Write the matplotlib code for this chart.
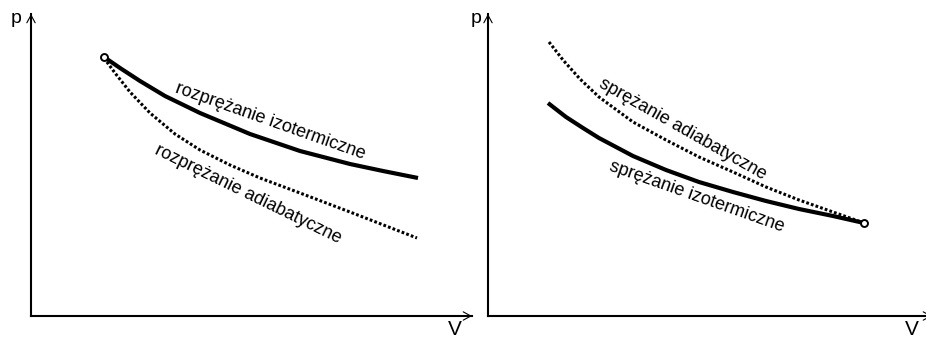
import numpy as np
import matplotlib
matplotlib.use("Agg")
import matplotlib.pyplot as plt

plt.rcParams["font.family"] = ["Liberation Sans", "DejaVu Sans"]

W_PX, H_PX = 926, 339

# ---- data (V, p in arbitrary units, origin at axes corner) ----
# left panel: expansion
exp_iso_V = [73, 89, 109, 134, 169, 219, 269, 319, 352, 387]
exp_iso_p = [259, 248, 235, 220, 203, 182, 165, 152, 145, 138]
exp_adi_V = [73, 84, 99, 119, 144, 169, 199, 229, 269, 319, 386]
exp_adi_p = [258, 243, 224, 203, 182, 166, 151, 138, 123, 104, 78]

# right panel: compression
com_adi_V = [61, 75, 92, 111, 145, 178, 211, 245, 278, 311, 345, 376]
com_adi_p = [274, 256, 237, 219, 194, 176, 159, 144, 129, 116, 104, 93]
com_iso_V = [60, 78, 95, 111, 145, 178, 211, 245, 278, 311, 345, 376]
com_iso_p = [213, 199, 188, 178, 160, 146, 134, 124, 115, 107, 100, 93]

labels_left = ["rozprężanie izotermiczne", "rozprężanie adiabatyczne"]
labels_right = ["sprężanie adiabatyczne", "sprężanie izotermiczne"]

fig = plt.figure(figsize=(W_PX / 100, H_PX / 100), dpi=100)


def make_axes(x0, x1, y_top, y_bot=316):
    ax = fig.add_axes([x0 / W_PX, 1 - y_bot / H_PX,
                       (x1 - x0) / W_PX, (y_bot - y_top) / H_PX])
    ax.set_xlim(0, x1 - x0)
    ax.set_ylim(0, y_bot - y_top)
    ax.set_xticks([])
    ax.set_yticks([])
    for s in ("top", "right"):
        ax.spines[s].set_visible(False)
    for s in ("left", "bottom"):
        ax.spines[s].set_linewidth(1.5)
        ax.spines[s].set_color("black")
    ax.patch.set_alpha(0)
    return ax


def arrow_heads(ax, xmax, ymax):
    kw = dict(arrowstyle="->,head_length=0.55,head_width=0.3", lw=0.8,
              color="black", shrinkA=0, shrinkB=0)
    ax.annotate("", xy=(0, ymax), xytext=(0, ymax - 10), arrowprops=kw,
                annotation_clip=False)
    ax.annotate("", xy=(xmax, 0), xytext=(xmax - 10, 0), arrowprops=kw,
                annotation_clip=False)


SOLID = dict(color="black", lw=3.0, solid_capstyle="butt",
             solid_joinstyle="round")
DOTTED = dict(color="black", lw=2.2, linestyle=(0, (0.9, 0.7)))
TXT = dict(fontsize=13, ha="center", va="center", rotation_mode="anchor")

# ---- left panel ----
axl = make_axes(31, 472, 14)
arrow_heads(axl, 441, 302)
axl.plot(exp_adi_V, exp_adi_p, **DOTTED)
axl.plot(exp_iso_V, exp_iso_p, **SOLID)
axl.plot(exp_iso_V[0], exp_iso_p[0], marker="o", ms=5, mfc="white",
         mec="black", mew=1.4)
axl.text(270 - 31, 316 - 121, labels_left[0], rotation=-19.5, **TXT)
axl.text(248 - 31, 316 - 194, labels_left[1], rotation=-26, **TXT)

# ---- right panel ----
axr = make_axes(488, 932, 14)
arrow_heads(axr, 444, 302)
axr.plot(com_adi_V, com_adi_p, **DOTTED)
axr.plot(com_iso_V, com_iso_p, **SOLID)
axr.plot(com_iso_V[-1], com_iso_p[-1], marker="o", ms=5, mfc="white",
         mec="black", mew=1.4)
axr.text(683 - 488, 316 - 129, labels_right[0], rotation=-29.5, **TXT)
axr.text(697 - 488, 316 - 197, labels_right[1], rotation=-19.5, **TXT)

# axis letters
for x in (16, 476):
    fig.text(x / W_PX, 1 - 23 / H_PX, "p", fontsize=14, ha="center",
             va="baseline")
for x in (455, 912):
    fig.text(x / W_PX, 1 - 335 / H_PX, "V", fontsize=15, ha="center",
             va="baseline")

fig.savefig("out.png", dpi=100, facecolor="white")
